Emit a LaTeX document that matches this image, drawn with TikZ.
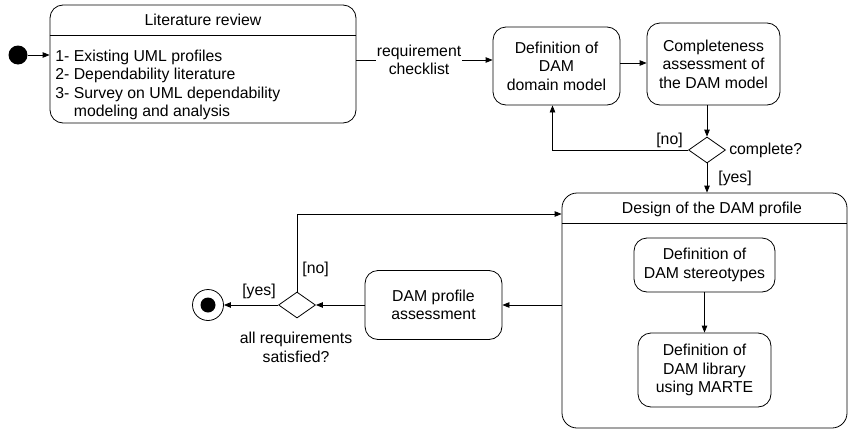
\documentclass[tikz,border=0pt]{standalone}
\usepackage{fontspec}
\setmainfont{Liberation Sans}
\usetikzlibrary{arrows.meta,shapes.geometric}
\begin{document}
\begin{tikzpicture}[x=1pt,y=-1pt,
  font=\fontsize{15.8}{18.5}\selectfont,
  line width=0.8pt,
  act/.style={draw, rounded corners=13pt, align=center, inner sep=0pt},
  dec/.style={draw, diamond, minimum width=37pt, minimum height=26pt, inner sep=0pt},
  arr/.style={-{Triangle[length=7pt,width=5.5pt]}},
  lbl/.style={inner sep=1pt, align=center}]
\useasboundingbox (0,0) rectangle (849,434);

% initial node
\node[circle, fill, minimum size=19pt, inner sep=0pt] (init) at (18,55) {};

% literature review
\node[act, minimum width=306pt, minimum height=118pt] (lit) at (203,64) {};
\draw (lit.west |- 0,35) -- (lit.east |- 0,35);
\node[lbl] (littitle) at (203,20) {Literature review};
\node[anchor=north west, align=left, inner sep=0pt] (litlist) at (55,49.5)
  {1- Existing UML profiles\\2- Dependability literature\\3- Survey on UML dependability\\\phantom{3- }modeling and analysis};

% domain model and completeness
\node[act, minimum width=127pt, minimum height=78pt] (dom) at (556.5,66) {Definition of\\DAM\\domain model};
\node[act, minimum width=133pt, minimum height=82pt] (comp) at (713.5,64) {Completeness\\assessment of\\the DAM model};
\node[dec] (dec1) at (707,150) {};

% design of the DAM profile
\node[act, rounded corners=15pt, minimum width=285pt, minimum height=235pt] (design) at (704.5,310.5) {};
\draw (design.west |- 0,223) -- (design.east |- 0,223);
\node[lbl] (destitle) at (712,209) {Design of the DAM profile};
\node[act, minimum width=141pt, minimum height=54pt] (ster) at (704.5,265) {Definition of\\DAM stereotypes};
\node[act, minimum width=133pt, minimum height=74pt] (lib) at (704.5,370) {Definition of\\DAM library\\using MARTE};

% assessment and final
\node[act, minimum width=137pt, minimum height=69pt] (assess) at (433.5,305) {DAM profile\\assessment};
\node[dec] (dec2) at (297,305) {};
\node[circle, draw, minimum size=31pt, inner sep=0pt] (final) at (208,305) {};
\node[circle, fill, minimum size=15pt, inner sep=0pt] (finaldot) at (final.center) {};

% connectors
\draw[arr] (init) -- (lit.west |- init);
\draw[arr] (lit.east |- 0,60) -- (dom.west |- 0,60)
  node[lbl, fill=white, pos=0.46] (reqlbl) {requirement\\checklist};
\draw[arr] (dom.east |- 0,63) -- (comp.west |- 0,63);
\draw[arr] (dec1 |- comp.south) -- (dec1.north);
\draw[arr] (dec1.west) -| ([xshift=-4pt]dom.south);
\node[lbl, anchor=south east] (nolbl1) at ([xshift=-4pt,yshift=1pt]dec1.west) {[no]};
\node[lbl, anchor=west] (complbl) at ([xshift=2pt]dec1.east) {complete?};
\draw[arr] (dec1.south) -- (dec1 |- design.north);
\node[lbl, anchor=west] (yeslbl1) at (717,178) {[yes]};
\draw[arr] (ster.south) -- (lib.north);
\draw[arr] (design.west |- assess.east) -- (assess.east);
\draw[arr] (assess.west) -- (dec2.east);
\draw[arr] (dec2.west) -- (final.east);
\draw[arr] (dec2.north) |- (design.west |- 0,214);
\node[lbl, anchor=west] (nolbl2) at (301,269) {[no]};
\node[lbl, anchor=south east] (yeslbl2) at ([xshift=-1pt,yshift=5pt]dec2.west) {[yes]};
\node[lbl, anchor=north] (satlbl) at (296,331) {all requirements\\satisfied?};
\end{tikzpicture}
\end{document}
